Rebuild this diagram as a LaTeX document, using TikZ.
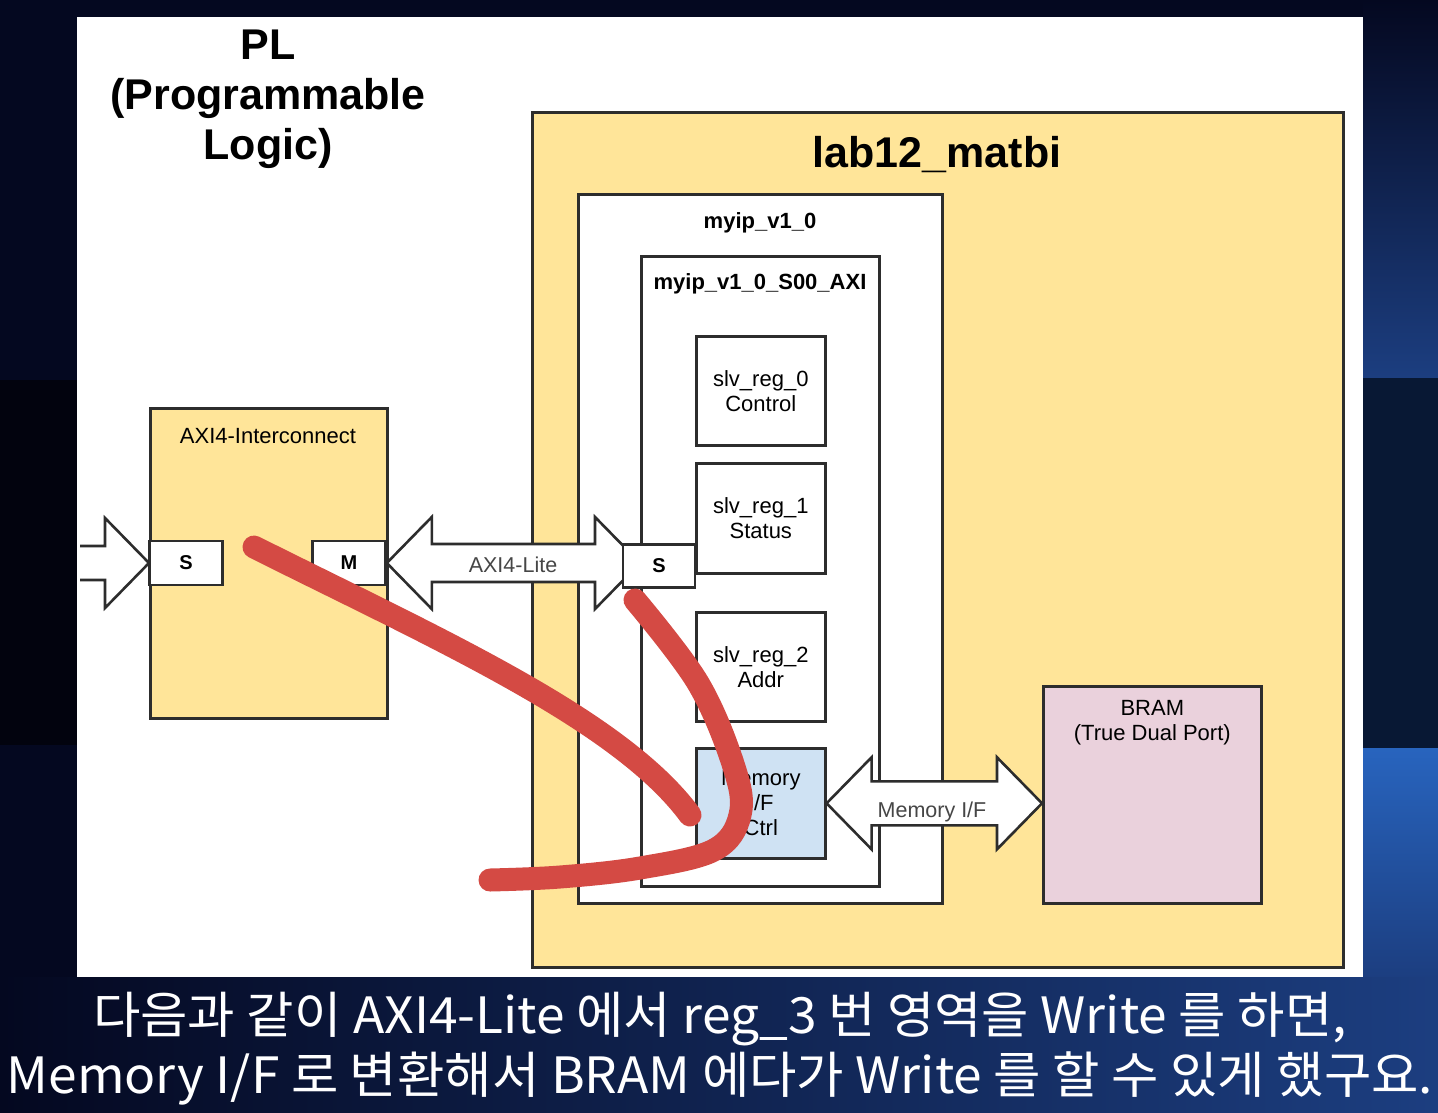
\documentclass[tikz,border=0pt]{standalone}
\usepackage{fontspec}
\setmainfont{Liberation Sans}
\newfontfamily\kofont{Noto Sans CJK KR}
\usetikzlibrary{calc}
\definecolor{bgnavy}{RGB}{4,8,32}
\definecolor{bgdark}{RGB}{2,3,14}
\definecolor{bgmid}{RGB}{8,24,52}
\definecolor{bgblue}{RGB}{28,62,128}
\definecolor{bgbright}{RGB}{40,100,190}
\definecolor{labyellow}{RGB}{255,229,153}
\definecolor{memblue}{RGB}{207,226,243}
\definecolor{brampink}{RGB}{234,209,220}
\definecolor{edge}{RGB}{45,45,45}
\definecolor{penred}{RGB}{212,74,68}
\definecolor{lbl}{RGB}{70,70,70}
\begin{document}
\begin{tikzpicture}[x=1pt,y=-1pt,
  blk/.style={draw=edge,line width=2.6pt,rectangle,inner sep=0pt,anchor=north west},
  barrow/.style={draw=edge,line width=2.6pt,fill=white,line join=miter},
  pen/.style={draw=penred,line width=23pt,line cap=round,line join=round},
  ttl/.style={font=\bfseries\fontsize{43}{50}\selectfont,align=center},
  sub/.style={font=\bfseries\fontsize{22}{25}\selectfont,anchor=base},
  txt/.style={font=\fontsize{22}{25}\selectfont,align=center},
  port/.style={blk,fill=white,font=\bfseries\fontsize{20}{24}\selectfont,anchor=center}]
\useasboundingbox (0,0) rectangle (1438,1112);
% background
\fill[bgnavy] (0,0) rectangle (1438,1112);
\fill[bgdark] (0,380) rectangle (77,745);
\shade[top color=bgnavy,bottom color=bgblue] (1363,0) rectangle (1438,378);
\fill[bgmid] (1363,378) rectangle (1438,748);
\shade[top color=bgbright,bottom color=bgblue] (1363,748) rectangle (1438,977);
\shade[left color=bgnavy,right color=bgblue] (0,977) rectangle (1438,1112);
\fill[white] (77,17) rectangle (1363,977);
% title
\node[ttl] (pl) at (268,99) {PL\\(Programmable\\Logic)};
% lab12 box
\node[blk,fill=labyellow,minimum width=811pt,minimum height=855pt] (lab) at (531,111) {};
\node[font=\bfseries\fontsize{43}{50}\selectfont,anchor=base] (labt) at (937,167) {lab12\_matbi};
\node[blk,fill=white,minimum width=364pt,minimum height=709pt] (myip) at (577,193) {};
\node[sub] (myipt) at (760,228) {myip\_v1\_0};
\node[blk,fill=white,minimum width=238pt,minimum height=630pt] (saxi) at (640,255) {};
\node[sub] (saxit) at (760,289) {myip\_v1\_0\_S00\_AXI};
% registers
\node[blk,fill=white,minimum width=129pt,minimum height=109pt] (r0) at (695,335) {};
\node[txt] (r0t) at (r0.center) {slv\_reg\_0\\Control};
\node[blk,fill=white,minimum width=129pt,minimum height=110pt] (r1) at (695,462) {};
\node[txt] (r1t) at (r1.center) {slv\_reg\_1\\Status};
\node[blk,fill=white,minimum width=129pt,minimum height=109pt] (r2) at (695,611) {};
\node[txt] (r2t) at (r2.center) {slv\_reg\_2\\Addr};
\node[blk,fill=memblue,minimum width=129pt,minimum height=110pt] (mem) at (695,747) {};
\node[txt] (memt) at (mem.center) {Memory\\I/F\\Ctrl};
% BRAM
\node[blk,fill=brampink,minimum width=218pt,minimum height=217pt] (bram) at (1042,685) {};
\node[txt,anchor=north] (bramt) at ($(bram.north)+(0,12)$) {BRAM\\(True Dual Port)};
% interconnect
\node[blk,fill=labyellow,minimum width=237pt,minimum height=310pt] (ic) at (149,407) {};
\node[txt,anchor=base] (ict) at (268,443) {AXI4-Interconnect};
% input arrow
\coordinate (inL) at (80,563);
\filldraw[barrow] ($(inL)+(0,-17)$) -- ($(inL)+(25,-17)$) -- ($(inL)+(25,-45)$) -- (149,563)
  -- ($(inL)+(25,45)$) -- ($(inL)+(25,17)$) -- ($(inL)+(0,17)$);
% ports of interconnect
\node[port,minimum width=73pt,minimum height=44pt] (ics) at (186,563) {S};
\node[port,minimum width=73pt,minimum height=44pt] (icm) at (349,563) {M};
% AXI4-Lite double arrow
\coordinate (aL) at (icm.east);
\coordinate (aR) at (aL-|640,0);
\filldraw[barrow] (aL) -- ($(aL)+(45,-46)$) -- ($(aL)+(45,-19)$) -- ($(aR)+(-45,-19)$) -- ($(aR)+(-45,-46)$)
  -- (aR) -- ($(aR)+(-45,46)$) -- ($(aR)+(-45,19)$) -- ($(aL)+(45,19)$) -- ($(aL)+(45,46)$) -- cycle;
\node[font=\fontsize{21.5}{24}\selectfont,text=lbl] (axil) at (513,565) {AXI4-Lite};
\node[port,minimum width=72pt,minimum height=43pt] (ss) at (659,566) {S};
% Memory I/F double arrow
\coordinate (mL) at (mem.east);
\coordinate (mR) at (bram.west|-mem.east);
\filldraw[barrow] (mL) -- ($(mL)+(45,-46)$) -- ($(mL)+(45,-22)$) -- ($(mR)+(-45,-22)$) -- ($(mR)+(-45,-46)$)
  -- (mR) -- ($(mR)+(-45,46)$) -- ($(mR)+(-45,22)$) -- ($(mL)+(45,22)$) -- ($(mL)+(45,46)$) -- cycle;
\node[font=\fontsize{21.5}{24}\selectfont,text=lbl] (memif) at (932,812) {Memory I/F};
% red annotation strokes
\draw[pen] (254,547) .. controls (440,640) and (620,720) .. (690,815);
\draw[pen] plot[smooth,tension=0.6] coordinates {(635,600) (698,683) (734,767) (740,815) (714,850) (640,868) (560,877) (490,880)};
% subtitles
\node[text=white,font=\kofont\fontsize{50}{60}\selectfont,align=center] (subt) at (720,1049)
  {\scalebox{1.03}[1]{다음과 같이 AXI4-Lite 에서 reg\_3 번 영역을 Write 를 하면,}\\\scalebox{1.03}[1]{Memory I/F 로 변환해서 BRAM 에다가 Write 를 할 수 있게 했구요.}};
\end{tikzpicture}
\end{document}
